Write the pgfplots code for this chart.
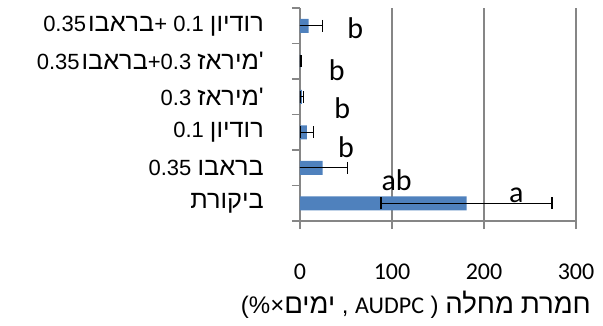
\documentclass[border=0pt]{standalone}
\usepackage{pgfplots}
\usepackage{pgfplotstable}
\pgfplotsset{compat=1.18}
\usepackage{fontspec}
\setmainfont{Liberation Sans}
\newfontfamily\heb[Script=Hebrew, Scale=1.15]{Liberation Sans}
\newfontfamily\calfont{Carlito}
\definecolor{barblue}{RGB}{79,129,189}
\definecolor{gridgray}{RGB}{134,134,134}

% disease severity per treatment: position, AUDPC mean, error
\pgfplotstableread{
pos val err
0 181 93
1 24.5 27
2 7.5 7
3 2 2
4 0.5 0.5
5 9.5 14.8
}\audpc

\newcommand{\lbl}{\calfont\fontsize{30bp}{30bp}\selectfont}

\begin{document}
\begin{tikzpicture}
\path[use as bounding box] (-300bp,-105bp) rectangle (303bp,221bp);
\begin{axis}[
  at={(0,0)}, anchor=south west,
  scale only axis, width=276bp, height=213bp,
  xbar, bar width=14bp,
  xmin=0, xmax=300, ymin=-0.5, ymax=5.5,
  enlargelimits=false,
  axis x line*=bottom, axis y line*=left,
  axis line style={draw=gridgray, line width=1.5bp},
  xmajorgrids, grid style={draw=gridgray, line width=1.5bp},
  tick align=outside, major tick length=8bp,
  tick style={draw=gridgray, line width=1.5bp},
  xtick={0,100,200,300},
  ytick={-0.5,0.5,...,5.5},
  y tick label as interval,
  yticklabels={
    {\heb ביקורת},
    {0.35 {\heb בראבו}},
    {0.1 {\heb רודיון}},
    {0.3 {\heb '}{\heb מיראז}},
    {0.35\kern2bp{\heb בראבו}+0.3 {\heb '}{\heb מיראז}},
    {0.35\kern2bp{\heb בראבו}+ 0.1 {\heb רודיון}}
  },
  yticklabel style={anchor=east, inner sep=0pt, xshift=-28bp,
    font=\fontsize{22bp}{25bp}\selectfont},
  /pgf/number format/assume math mode=true,
  xticklabel style={anchor=base, inner sep=0pt, yshift=-50bp,
    font=\calfont\fontsize{24bp}{24bp}\selectfont},
  xlabel={(\%×{\heb ימים} , {\calfont AUDPC} ) {\heb מחלה} {\heb חמרת}},
  xlabel style={at={(axis description cs:0.42,0)}, anchor=base,
    inner sep=0pt, yshift=-92bp, font=\fontsize{24bp}{27bp}\selectfont},
]
\addplot[fill=barblue, draw=none,
  error bars/.cd, x dir=both, x explicit, error mark=|,
  error bar style={black, line width=1.3bp},
  error mark options={black, line width=1.3bp, mark size=6bp}]
  table[x=val, y=pos, x error=err]{\audpc};

\node[font=\lbl] at (axis cs:60,4.93) {b};
\node[font=\lbl] at (axis cs:40,3.75) {b};
\node[font=\lbl] at (axis cs:46,2.68) {b};
\node[font=\lbl] at (axis cs:50,1.58) {b};
\node[font=\lbl] at (axis cs:105,0.65) {ab};
\node[font=\lbl] at (axis cs:235,0.23) {a};
\end{axis}
\end{tikzpicture}
\end{document}
